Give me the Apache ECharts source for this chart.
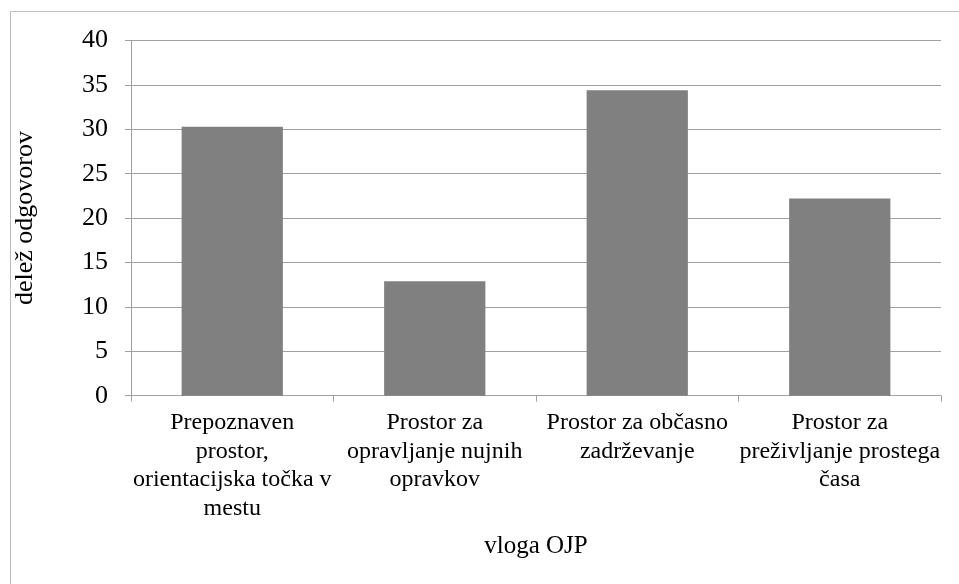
<!DOCTYPE html>
<html>
<head>
<meta charset="utf-8">
<script src="https://cdn.jsdelivr.net/npm/echarts@6/dist/echarts.min.js"></script>
<style>
  html, body { margin: 0; padding: 0; background: #fff; }
  #chart { width: 959px; height: 584px; }
</style>
</head>
<body>
<div id="chart"></div>
<script>
// Role of the public open space (OJP) and share of answers
const categories = [
  'Prepoznaven\nprostor,\norientacijska točka v\nmestu',
  'Prostor za\nopravljanje nujnih\nopravkov',
  'Prostor za občasno\nzadrževanje',
  'Prostor za\npreživljanje prostega\nčasa'
];
const shares = [30.3, 12.9, 34.4, 22.2];
const xAxisTitle = 'vloga OJP';
const yAxisTitle = 'delež odgovorov';

const font = '"Liberation Serif", "Times New Roman", serif';
const lineGray = '#a0a0a0';

const chart = echarts.init(document.getElementById('chart'), null, { renderer: 'canvas' });
chart.setOption({
  animation: false,
  backgroundColor: '#ffffff',
  graphic: [{
    type: 'rect',
    shape: { x: 10.5, y: 11.5, width: 1000, height: 1000 },
    style: { fill: 'none', stroke: '#bdbdbd', lineWidth: 1 },
    silent: true
  }],
  grid: { left: 131, right: 18, top: 40.5, bottom: 188.3 },
  xAxis: {
    type: 'category',
    data: categories,
    name: xAxisTitle,
    nameLocation: 'middle',
    nameGap: 138,
    nameTextStyle: { fontFamily: font, fontSize: 25, color: '#000' },
    axisLine: { show: true, lineStyle: { color: lineGray, width: 1 } },
    axisTick: { show: true, length: 6, lineStyle: { color: lineGray } },
    axisLabel: {
      interval: 0,
      margin: 13,
      fontFamily: font,
      fontSize: 24,
      lineHeight: 28.5,
      color: '#000',
      align: 'center'
    }
  },
  yAxis: {
    type: 'value',
    min: 0,
    max: 40,
    interval: 5,
    name: yAxisTitle,
    nameLocation: 'middle',
    nameGap: 93,
    nameTextStyle: { fontFamily: font, fontSize: 26, color: '#000' },
    axisLine: { show: true, lineStyle: { color: lineGray, width: 1 } },
    axisTick: { show: true, length: 6, lineStyle: { color: lineGray } },
    splitLine: { show: true, lineStyle: { color: lineGray, width: 1 } },
    axisLabel: {
      margin: 23,
      fontFamily: font,
      fontSize: 26,
      color: '#000'
    }
  },
  series: [{
    type: 'bar',
    data: shares,
    barWidth: '50%',
    itemStyle: { color: '#808080' }
  }]
});
</script>
</body>
</html>
